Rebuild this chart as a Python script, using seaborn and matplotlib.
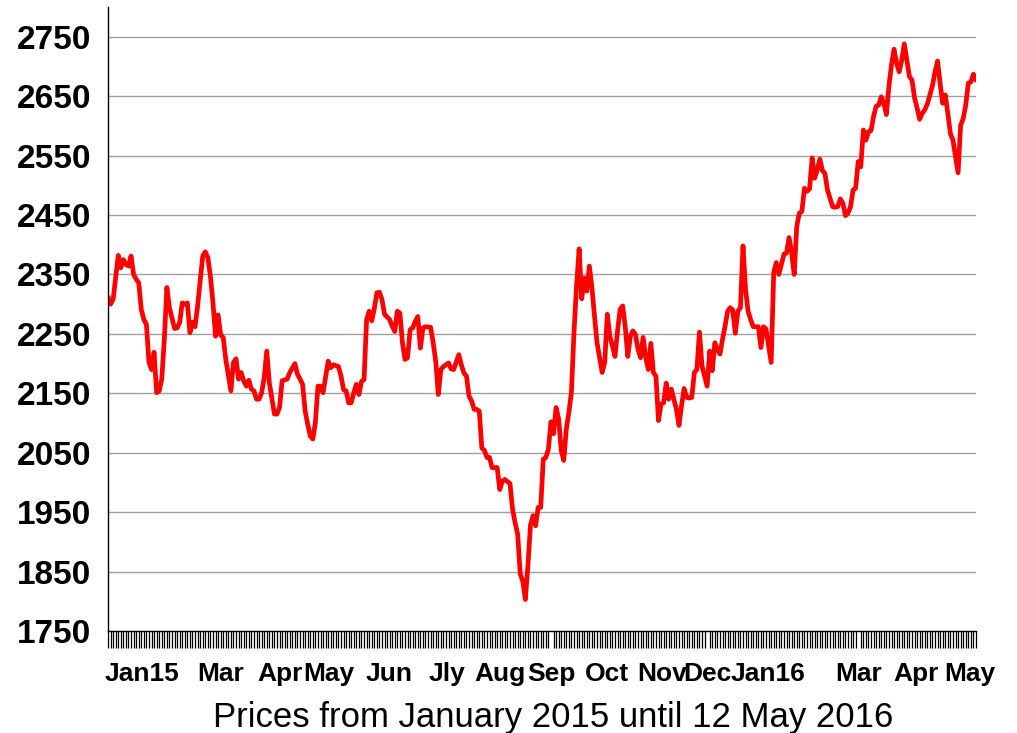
import matplotlib
matplotlib.use("Agg")
import matplotlib.pyplot as plt
import seaborn as sns
import pandas as pd
import numpy as np

# ---- data ----
trading_day = [
    0, 1, 2, 4, 5, 6, 7, 8, 9, 10, 11, 12, 13, 14, 15, 16, 17, 18, 19, 20,
    21, 22, 23, 24, 26, 27, 28, 29, 30, 31, 32, 33, 34, 35, 37, 38, 39, 40, 41, 42,
    43, 44, 45, 46, 48, 49, 50, 51, 52, 53, 54, 55, 56, 57, 58, 59, 60, 61, 62, 63,
    65, 66, 67, 68, 70, 71, 73, 74, 75, 76, 77, 78, 79, 80, 81, 82, 83, 84,
    86, 87, 88, 90, 91, 92, 93, 94, 95, 96, 97, 98, 99, 100, 101, 102, 103, 104,
    105, 106, 107, 108, 110, 111, 112, 113, 114, 115, 116, 117, 118, 119, 120, 121,
    122, 123, 124, 126, 127, 128, 129, 130, 131, 133, 134, 135, 137, 138, 139, 140,
    141, 142, 143, 144, 145, 146, 147, 148, 149, 150, 152, 153, 154, 155, 157, 158,
    159, 160, 161, 162, 163, 164, 165, 166, 167, 168, 169, 170,
    171, 172, 173, 174, 175, 176, 177, 178, 179, 180, 181, 182, 183, 184, 185, 186,
    187, 188, 189, 190, 191, 193, 194, 195, 196, 197, 198, 199, 200, 201, 202, 203,
    204, 205, 206, 207, 208, 209, 210, 211, 212, 213, 214, 215, 216, 217, 218, 219,
    220, 221, 222, 223, 224, 225, 226, 227, 228, 229, 230, 231, 232, 234, 235, 236,
    237, 238, 239, 240, 241, 242, 243, 244, 245, 246, 247, 248, 249, 250, 251, 252,
    254, 255, 256, 257, 259, 260, 261, 262, 264, 265, 266, 267, 268, 269, 270, 271,
    272, 273, 274, 275, 276, 277, 278, 279, 280, 281, 283, 284, 285, 286, 287, 288,
    289, 290, 291, 292, 293, 294, 295, 296, 297, 298, 299, 300, 301, 302, 303, 304,
    305, 306, 307, 308, 309, 310, 311, 312, 313, 314, 315, 316, 317, 318, 319, 320,
    321, 322, 323, 324, 325, 326, 327, 328, 329, 330, 331, 332, 333, 334, 335, 336,
    337, 338, 339,
]
price = [
    2312, 2300, 2308, 2382, 2361, 2375, 2367, 2364, 2381, 2350, 2342, 2336, 2291, 2274, 2266, 2202, 2190, 2219, 2151, 2154,
    2174, 2241, 2328, 2294, 2259, 2260, 2269, 2302, 2300, 2302, 2252, 2270, 2262, 2297, 2381, 2388, 2378, 2347, 2302, 2246,
    2282, 2248, 2244, 2207, 2154, 2202, 2208, 2174, 2185, 2171, 2162, 2172, 2157, 2154, 2140, 2140, 2151, 2176, 2221, 2168,
    2115, 2115, 2126, 2171, 2174, 2185, 2200, 2182, 2174, 2165, 2120, 2098, 2078, 2073, 2101, 2162, 2162, 2151,
    2204, 2193, 2198, 2195, 2179, 2156, 2154, 2134, 2134, 2151, 2165, 2148, 2170, 2173, 2274, 2288, 2272, 2292,
    2319, 2320, 2308, 2283, 2274, 2263, 2254, 2288, 2285, 2235, 2207, 2210, 2257, 2260, 2271, 2279,
    2226, 2260, 2262, 2261, 2235, 2204, 2148, 2190, 2195, 2201, 2191, 2190, 2215, 2198, 2184, 2179,
    2145, 2137, 2123, 2123, 2120, 2058, 2054, 2042, 2042, 2025, 2025, 1988, 2002, 2005, 1998, 1955,
    1932, 1913, 1846, 1834, 1803, 1860, 1928, 1944, 1927, 1958, 1958, 2039,
    2042, 2056, 2102, 2082, 2126, 2107, 2054, 2037, 2090, 2118, 2152, 2253, 2331, 2393, 2309, 2344,
    2322, 2364, 2328, 2280, 2235, 2185, 2202, 2283, 2246, 2230, 2212, 2255, 2291, 2297, 2263, 2212,
    2246, 2255, 2249, 2224, 2210, 2244, 2210, 2190, 2234, 2185, 2179, 2104, 2132, 2134, 2167, 2140,
    2157, 2140, 2123, 2096, 2129, 2158, 2143, 2142, 2143, 2185, 2190, 2253, 2196, 2162, 2221, 2188,
    2235, 2224, 2216, 2241, 2263, 2288, 2294, 2290, 2251, 2288, 2294, 2398, 2325, 2288, 2274, 2262,
    2262, 2227, 2262, 2258, 2202, 2353, 2370, 2350, 2384, 2386, 2412, 2386, 2350, 2431, 2453, 2456,
    2495, 2490, 2494, 2546, 2512, 2526, 2544, 2525, 2520, 2492, 2464, 2463, 2464, 2477, 2470, 2449,
    2453, 2464, 2492, 2495, 2540, 2531, 2593, 2576, 2590, 2592, 2616, 2633, 2635, 2649, 2638, 2619,
    2667, 2703, 2729, 2705, 2691, 2711, 2738, 2711, 2683, 2677, 2647, 2630, 2611, 2621, 2627, 2637,
    2652, 2668, 2691, 2709, 2671, 2638, 2652, 2621, 2587, 2576, 2548, 2521, 2601, 2612, 2635, 2672,
    2674, 2687, 2677,
]
n_days = 340
month_labels = ["Jan15", "Mar", "Apr", "May", "Jun", "Jly", "Aug", "Sep", "Oct",
                "Nov", "Dec", "Jan16", "Mar", "Apr", "May"]
month_label_days = [13.3, 44.1, 67.2, 86.3, 109.8, 132.3, 153.1, 173.0, 194.9,
                    216.4, 234.0, 257.8, 293.0, 315.6, 336.7]
y_ticks = [1750, 1850, 1950, 2050, 2150, 2250, 2350, 2450, 2550, 2650, 2750]
x_title = "Prices from January 2015 until 12 May 2016"

# ---- styling ----
sns.set_theme(style="white")
plt.rcParams["font.family"] = ["Liberation Sans", "DejaVu Sans"]
plt.rcParams["text.color"] = "black"
plt.rcParams["axes.labelcolor"] = "black"
plt.rcParams["xtick.color"] = "black"
plt.rcParams["ytick.color"] = "black"

df = pd.DataFrame({"day": trading_day, "price": price})

fig = plt.figure(figsize=(10.17, 7.33), dpi=100)
ax = fig.add_axes([108 / 1017, 1 - 631 / 733, 868 / 1017, 624 / 733])

ax.yaxis.grid(True, color="#a0a0a0", linewidth=1.0)
ax.set_axisbelow(True)

sns.lineplot(data=df, x="day", y="price", ax=ax, color="#ff0000",
             linewidth=3.4, estimator=None, sort=False)

ax.set_xlim(0, n_days - 1)
ax.set_ylim(1750, 2800)
ax.set_yticks(y_ticks)
ax.set_yticklabels([str(v) for v in y_ticks], fontsize=24, fontweight="bold",
                   color="black")
ax.tick_params(axis="y", length=0, pad=12)

ax.set_xticks(month_label_days)
ax.set_xticklabels(month_labels, fontsize=19, fontweight="bold", color="black")
ax.set_xticks(np.arange(n_days), minor=True)
ax.tick_params(axis="x", which="major", length=0, pad=22)
ax.tick_params(axis="x", which="minor", length=12.5, width=0.9,
               color="black", direction="out", bottom=True)

for side in ["top", "right"]:
    ax.spines[side].set_visible(False)
for side in ["left", "bottom"]:
    ax.spines[side].set_visible(True)
    ax.spines[side].set_color("black")
    ax.spines[side].set_linewidth(1.0)

ax.set_ylabel("")
ax.set_xlabel(x_title, fontsize=25, color="black")
ax.xaxis.set_label_coords((553 - 108) / 868, -0.112)

fig.savefig("out.png", dpi=100, facecolor="white")
